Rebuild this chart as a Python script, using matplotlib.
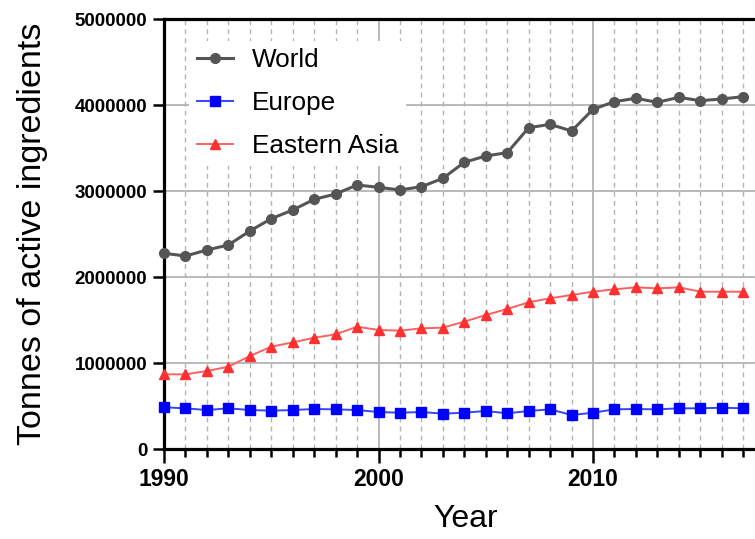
import matplotlib
matplotlib.use("Agg")
import matplotlib.pyplot as plt
from matplotlib.ticker import MultipleLocator, FixedLocator

years = list(range(1990, 2018))

world = [2276000, 2244000, 2314000, 2372000, 2535000, 2678000, 2779000, 2903000,
         2965000, 3070000, 3043000, 3012000, 3050000, 3147000, 3334000, 3407000,
         3446000, 3736000, 3775000, 3698000, 3950000, 4039000, 4078000, 4031000,
         4089000, 4050000, 4070000, 4097000]

europe = [485000, 473000, 453000, 473000, 453000, 446000, 453000, 465000,
          461000, 453000, 430000, 422000, 430000, 411000, 422000, 442000,
          415000, 442000, 461000, 395000, 422000, 461000, 465000, 461000,
          473000, 473000, 480000, 473000]

eastern_asia = [868000, 868000, 907000, 957000, 1081000, 1190000, 1240000, 1294000,
                1333000, 1422000, 1384000, 1376000, 1403000, 1411000, 1481000, 1558000,
                1628000, 1706000, 1752000, 1791000, 1829000, 1857000, 1880000, 1868000,
                1880000, 1829000, 1829000, 1829000]

y_ticks = [0, 1000000, 2000000, 3000000, 4000000, 5000000]
x_ticks = [1990, 2000, 2010]

plt.rcParams['font.family'] = ['Liberation Sans', 'DejaVu Sans']

fig = plt.figure(figsize=(7.55, 5.39), dpi=100)
ax = fig.add_axes([164 / 755, 1 - 449 / 539, 1 - 164 / 755, (449 - 19) / 539])

ax.plot(years, world, color='#555555', lw=2.2, marker='o', ms=7,
        label='World', zorder=5, clip_on=False)
ax.plot(years, europe, color='#3344ff', lw=1.4, marker='s', ms=6.5,
        markerfacecolor='#0000ff', markeredgecolor='#0000ff',
        label='Europe', zorder=5, clip_on=False)
ax.plot(years, eastern_asia, color='#ff6060', lw=1.4, marker='^', ms=7,
        markerfacecolor='#ff3030', markeredgecolor='#ff3030',
        label='Eastern Asia', zorder=5, clip_on=False)

ax.set_xlim(1990, 2017.55)
ax.set_ylim(0, 5000000)

ax.yaxis.set_major_locator(FixedLocator(y_ticks))
ax.set_yticklabels([str(v) for v in y_ticks])
ax.xaxis.set_major_locator(FixedLocator(x_ticks))
ax.xaxis.set_minor_locator(MultipleLocator(1))

# grid: solid major lines, dashed yearly lines
ax.grid(True, which='major', axis='both', color='#b4b4b4', lw=1.3, zorder=1)
ax.grid(True, which='minor', axis='x', color='#b4b4b4', lw=1.0,
        linestyle=(0, (3.5, 3)), zorder=1)
ax.set_axisbelow(True)

for side in ['left', 'bottom', 'top']:
    ax.spines[side].set_linewidth(2.3)
    ax.spines[side].set_color('black')
ax.spines['right'].set_visible(False)

ax.tick_params(axis='y', which='major', direction='out', length=8, width=1.8,
               pad=4, labelsize=13.5)
ax.tick_params(axis='x', which='major', direction='out', length=10, width=1.8,
               pad=4, labelsize=16.5)
ax.tick_params(axis='x', which='minor', direction='out', length=6, width=1.8)
for lbl in ax.get_xticklabels() + ax.get_yticklabels():
    lbl.set_fontweight('bold')

ax.set_ylabel('Tonnes of active ingredients', fontsize=24.5, labelpad=19)
ax.set_xlabel('Year', fontsize=23)
ax.xaxis.set_label_coords(0.51, -0.128)

leg = ax.legend(loc='upper left', bbox_to_anchor=(0.02, 0.98), fontsize=18.8,
                frameon=True, facecolor='white', edgecolor='none', framealpha=1,
                handlelength=1.4, handletextpad=0.7, labelspacing=0.72,
                borderpad=0.3)
leg.set_zorder(6)

fig.savefig('out.png', dpi=100)
